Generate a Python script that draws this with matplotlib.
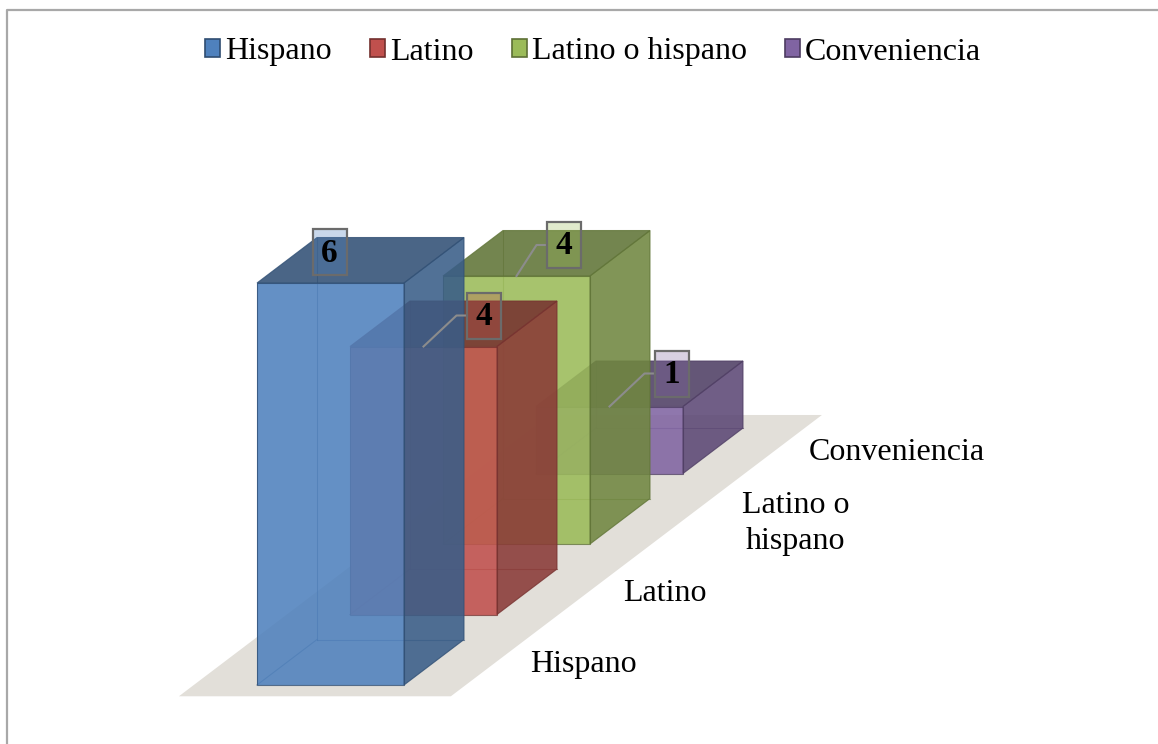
import matplotlib
matplotlib.use("Agg")
import matplotlib.pyplot as plt
from matplotlib.patches import Polygon, Rectangle, Patch
from matplotlib.colors import to_rgb

# Data
series = ["Hispano", "Latino", "Latino o hispano", "Conveniencia"]
depth_labels = ["Hispano", "Latino", "Latino o\nhispano", "Conveniencia"]
values = [6, 4, 4, 1]
colors = ["#4F81BD", "#C0504D", "#9BBB59", "#8064A2"]

# Oblique "3D" geometry, in pixel units of the canvas
ORIGIN = (257.0, 685.0)      # front-bottom-left corner of the first bar
BAR_W = 147.0                # width of a bar front face
UNIT_H = 67.0                # height of one value unit
ROW_DX, ROW_DY = 93.0, -70.5 # shift from one depth row to the next
BAR_DEPTH = 0.645            # bar depth as a fraction of a row
FLOOR_X = (-0.43, 1.42)
FLOOR_D = (-0.16, 3.83)
ALPHA = 0.88

# value label box placement relative to the top front edge midpoint
LABEL_OFFSETS = [(-1, -31), (60, -31), (47, -31), (62, -33)]
AXIS_LABEL_PAD = [34, 34, 60, 34]

FONT = "Liberation Serif"


def proj(x, d, z):
    return (ORIGIN[0] + x * BAR_W + d * ROW_DX,
            ORIGIN[1] - z * UNIT_H + d * ROW_DY)


def shade(color, k):
    r, g, b = to_rgb(color)
    return (r * k, g * k, b * k)


fig = plt.figure(figsize=(11.58, 7.44), dpi=100)
ax = fig.add_axes([0, 0, 1, 1])
ax.set_xlim(0, 1158)
ax.set_ylim(744, 0)
ax.axis("off")

# chart area border (left and top edges)
ax.plot([7, 7, 1165], [760, 9.5, 9.5], color="#A8A8A8", lw=1.6, zorder=1)

# floor
fx0, fx1 = FLOOR_X
fd0, fd1 = FLOOR_D
floor = [proj(fx0, fd0, 0), proj(fx1, fd0, 0), proj(fx1, fd1, 0), proj(fx0, fd1, 0)]
ax.add_patch(Polygon(floor, closed=True, facecolor="#E2DFD9", edgecolor="none", zorder=2))

# bars, drawn from back to front
n = len(values)
for i in reversed(range(n)):
    v = values[i]
    c = colors[i]
    d0, d1 = i, i + BAR_DEPTH
    edge = shade(c, 0.62)
    z = 10 + (n - i) * 3

    # hidden edges seen through the transparent faces
    for a, b in [((0, d1, 0), (0, d1, v)), ((0, d1, 0), (1, d1, 0)), ((0, d0, 0), (0, d1, 0))]:
        p, q = proj(*a), proj(*b)
        ax.plot([p[0], q[0]], [p[1], q[1]], color=edge, lw=0.8, alpha=0.6, zorder=z)

    front = [proj(0, d0, 0), proj(1, d0, 0), proj(1, d0, v), proj(0, d0, v)]
    right = [proj(1, d0, 0), proj(1, d1, 0), proj(1, d1, v), proj(1, d0, v)]
    top = [proj(0, d0, v), proj(1, d0, v), proj(1, d1, v), proj(0, d1, v)]
    for pts, k in [(front, 1.0), (right, 0.72), (top, 0.62)]:
        ax.add_patch(Polygon(pts, closed=True, facecolor=shade(c, k), alpha=ALPHA,
                             edgecolor="none", zorder=z + 1))
        ax.add_patch(Polygon(pts, closed=True, facecolor="none", edgecolor=edge,
                             lw=0.8, alpha=0.8, zorder=z + 2))

# value labels with leader lines
for i, v in enumerate(values):
    ax_, ay_ = proj(0.5, i, v)
    ox, oy = LABEL_OFFSETS[i]
    bx, by = ax_ + ox, ay_ + oy
    bw, bh = 34, 46
    if ox > 20:
        lx = bx - bw / 2
        ax.plot([lx, lx - 10, ax_], [by, by, ay_], color="#8C8C8C", lw=1.5, zorder=40)
    ax.add_patch(Rectangle((bx - bw / 2, by - bh / 2), bw, bh,
                           facecolor=(*to_rgb(colors[i]), 0.3),
                           edgecolor="#6B6B6B", lw=1.6, zorder=41))
    ax.text(bx, by + 1, str(v), ha="center", va="center", fontsize=24,
            fontweight="bold", family=FONT, color="black", zorder=42)

# depth axis labels along the right edge of the floor
for i, lab in enumerate(depth_labels):
    px, py = proj(fx1, i + BAR_DEPTH / 2, 0)
    ax.text(px + AXIS_LABEL_PAD[i], py + 2, lab, ha="left", va="center",
            fontsize=23, family=FONT, multialignment="center",
            linespacing=1.3, zorder=5)

# legend
handles = [Patch(facecolor=c, edgecolor=shade(c, 0.6), lw=1.2) for c in colors]
fig.legend(handles, series, loc="center", bbox_to_anchor=(593 / 1158, 1 - 52 / 744),
           ncol=4, frameon=False, prop={"family": FONT, "size": 23},
           handlelength=0.48, handleheight=0.48, handletextpad=0.15,
           columnspacing=1.2, borderaxespad=0)

fig.savefig("out.png", dpi=100)
